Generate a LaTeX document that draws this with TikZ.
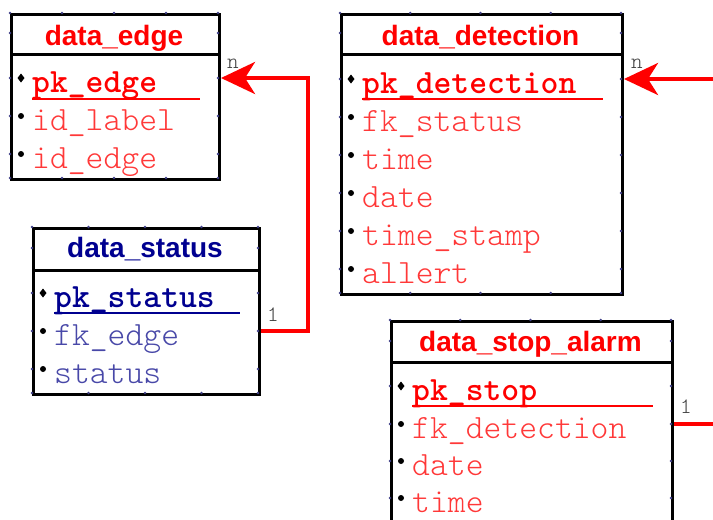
\documentclass[tikz,border=0pt]{standalone}
\usepackage{fontspec}
\usetikzlibrary{arrows.meta}
\newfontfamily\hdfont{Liberation Sans}
\newfontfamily\attrfont{lmmonolt10-regular.otf}[BoldFont=lmmonolt10-bold.otf]
\definecolor{tblred}{HTML}{FF0000}
\definecolor{attrred}{HTML}{FF3838}
\definecolor{tblnavy}{HTML}{000090}
\definecolor{attrblue}{HTML}{4848A8}
\definecolor{portdot}{HTML}{404088}
\definecolor{cardgray}{HTML}{404040}

\begin{document}
\begin{tikzpicture}[x=1pt,y=-1pt,
  tblbox/.style={draw=black, line width=3pt, fill=white, anchor=north west, inner sep=0pt},
  hdr/.style={anchor=base, inner sep=0pt, font=\hdfont\bfseries\fontsize{28}{28}\selectfont},
  attr/.style={anchor=west, inner sep=0pt, text height=30pt, text depth=2pt, font=\attrfont\fontsize{34}{34}\selectfont},
  pkattr/.style={attr, font=\attrfont\bfseries\fontsize{34}{34}\selectfont},
  sepline/.style={draw=black, line width=3pt},
  keyline/.style={line width=1.6pt},
  conn/.style={draw=tblred, line width=4pt},
  tip/.style={-{Stealth[length=34pt,width=32pt,inset=10pt]}},
  card/.style={inner sep=0pt, text=cardgray, font=\attrfont\fontsize{22}{22}\selectfont},
  port/.style={fill=portdot}]

\useasboundingbox (0,0) rectangle (713,520);
\clip (0,0) rectangle (713,520);
\fill[white] (0,0) rectangle (713,520);

% ---------- data_edge ----------
\node[tblbox, minimum width=208pt, minimum height=165pt] (edge) at (10,13) {};
\draw[sepline] (10,54) -- (218,54);
\node[hdr, text=tblred] (edge-head) at (114,45) {data\_edge};
\node[pkattr, text=tblred] (edge-pk) at (32,78) {pk\_edge};
\node[attr, text=attrred] (edge-lbl) at (32,116) {id\_label};
\node[attr, text=attrred] (edge-id) at (32,154) {id\_edge};
\draw[keyline, tblred] (32,99) -- (200,99);

% ---------- data_detection ----------
\node[tblbox, minimum width=281pt, minimum height=280pt] (detection) at (340,13) {};
\draw[sepline] (340,54) -- (621,54);
\node[hdr, text=tblred] (detection-head) at (480.5,45) {data\_detection};
\node[pkattr, text=tblred] (detection-pk) at (362,79) {pk\_detection};
\node[attr, text=attrred] (detection-fk) at (362,117) {fk\_status};
\node[attr, text=attrred] (detection-time) at (362,155) {time};
\node[attr, text=attrred] (detection-date) at (362,193) {date};
\node[attr, text=attrred] (detection-ts) at (362,231) {time\_stamp};
\node[attr, text=attrred] (detection-allert) at (362,269) {allert};
\draw[keyline, tblred] (362,99) -- (603,99);

% ---------- data_status ----------
\node[tblbox, minimum width=226pt, minimum height=166pt] (status) at (32,227) {};
\draw[sepline] (32,270) -- (258,270);
\node[hdr, text=tblnavy] (status-head) at (145,257) {data\_status};
\node[pkattr, text=tblnavy] (status-pk) at (54,293) {pk\_status};
\node[attr, text=attrblue] (status-fk) at (54,331) {fk\_edge};
\node[attr, text=attrblue] (status-st) at (54,369) {status};
\draw[keyline, tblnavy] (54,313) -- (240,313);

% ---------- data_stop_alarm ----------
\node[tblbox, minimum width=281pt, minimum height=240pt] (stop) at (390,320) {};
\draw[sepline] (390,362) -- (671,362);
\node[hdr, text=tblred] (stop-head) at (530.5,351) {data\_stop\_alarm};
\node[pkattr, text=tblred] (stop-pk) at (412,386) {pk\_stop};
\node[attr, text=attrred] (stop-fk) at (412,424) {fk\_detection};
\node[attr, text=attrred] (stop-date) at (412,461) {date};
\node[attr, text=attrred] (stop-time) at (412,498) {time};
\draw[keyline, tblred] (412,406) -- (653,406);

% ---------- row markers: diamond for keys, dots for fields ----------
\foreach \x/\y in {21/78, 351/79, 43/293, 401/386}
  \fill (\x,\y-4.5) -- (\x+3.5,\y) -- (\x,\y+4.5) -- (\x-3.5,\y) -- cycle;
\foreach \x/\y in {21/116, 21/154, 351/117, 351/155, 351/193, 351/231, 351/269,
                   43/331, 43/369, 401/424, 401/461, 401/498}
  \fill (\x,\y) circle (3pt);

% ---------- connection handles on the table borders ----------
\foreach \l/\r/\t/\b/\ys in {10/218/13/178/{33,78,116,154},
                             340/621/13/293/{33,79,117,155,193,231,269},
                             32/258/227/393/{248,293,331,369},
                             390/671/320/560/{341,386,424,461,498}}{
  \foreach \k in {0,1,2,3,4}{
    \fill[port] ({\l+\k*(\r-\l)/4},\t) circle (1.3pt);
    \fill[port] ({\l+\k*(\r-\l)/4},\b) circle (1.3pt);
  }
  \foreach \yy in \ys{
    \fill[port] (\l,\yy) circle (1.3pt);
    \fill[port] (\r,\yy) circle (1.3pt);
  }
}

% ---------- relationships ----------
\draw[conn, tip] (status.east |- status-fk) -- ++(47,0) |- (edge.east |- edge-pk);
\draw[conn, tip] (stop.east |- stop-fk) -- ++(80,0) |- (detection.east |- detection-pk);

% ---------- cardinalities ----------
\node[card] (card-edge) at (233,64) {n};
\node[card] (card-status) at (273,315) {1};
\node[card] (card-detection) at (637,64) {n};
\node[card] (card-stop) at (686,407) {1};
\end{tikzpicture}
\end{document}
